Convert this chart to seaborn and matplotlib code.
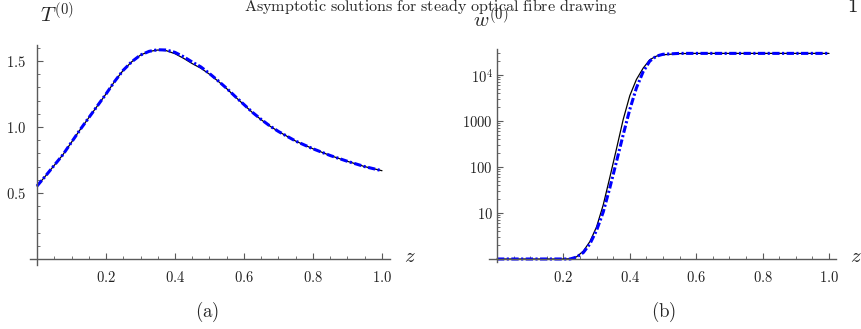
import matplotlib
matplotlib.use("Agg")
import numpy as np
import pandas as pd
import seaborn as sns
import matplotlib.pyplot as plt
from matplotlib.ticker import FixedLocator, FuncFormatter, NullFormatter

# ---------------- data ----------------
T_z = [0.0, 0.025, 0.05, 0.075, 0.1, 0.125, 0.15, 0.175, 0.2, 0.225, 0.25,
       0.275, 0.3, 0.325, 0.35, 0.375, 0.4, 0.425, 0.45, 0.475, 0.5, 0.525, 0.55,
       0.575, 0.6, 0.625, 0.65, 0.675, 0.7, 0.75, 0.8, 0.85, 0.9, 0.95, 1.0]
T_exact = [0.553, 0.63, 0.71, 0.79, 0.885, 0.98, 1.07, 1.16, 1.25, 1.345, 1.43,
           1.495, 1.545, 1.572, 1.583, 1.578, 1.555, 1.52, 1.48, 1.445, 1.40, 1.347, 1.29,
           1.228, 1.168, 1.108, 1.055, 1.007, 0.966, 0.893, 0.835, 0.784, 0.74, 0.70, 0.669]
T_asym = [0.553, 0.63, 0.71, 0.79, 0.885, 0.98, 1.07, 1.16, 1.25, 1.345, 1.43,
          1.495, 1.545, 1.573, 1.585, 1.583, 1.565, 1.532, 1.492, 1.455, 1.405, 1.35, 1.292,
          1.23, 1.17, 1.11, 1.057, 1.008, 0.966, 0.893, 0.835, 0.784, 0.74, 0.70, 0.669]

w_z = [0.0, 0.1, 0.2, 0.22, 0.24, 0.26, 0.28, 0.3, 0.32, 0.34, 0.36, 0.38,
       0.4, 0.42, 0.44, 0.46, 0.48, 0.5, 0.55, 0.6, 0.8, 1.0]
w_exact = [1.0, 1.0, 1.0, 1.01, 1.12, 1.48, 2.4, 5.0, 15.0, 60.0, 250.0, 1070.0,
           3550.0, 8000.0, 14000.0, 21400.0, 25700.0, 27500.0, 29200.0, 29500.0,
           29500.0, 29500.0]
w_asym = [1.0, 1.0, 1.0, 1.0, 1.1, 1.38, 2.14, 4.2, 10.5, 35.5, 132.0, 500.0,
          1780.0, 5250.0, 11700.0, 20000.0, 25700.0, 28200.0, 29500.0, 29500.0,
          29500.0, 29500.0]

x_ticks = [0.2, 0.4, 0.6, 0.8, 1.0]
T_ticks = [0.5, 1.0, 1.5]
w_ticks = [10, 100, 1000, 10000]
w_tick_labels = ["10", "100", "1000", r"10^4"]

# ---------------- style ----------------
sns.set_theme(style="white")
plt.rcParams["font.family"] = ["DejaVu Serif"]
plt.rcParams["mathtext.fontset"] = "cm"

AX_COL = "#5a5a5a"
BLUE = "#0000ff"

fig = plt.figure(figsize=(8.62, 3.29), dpi=100)
W, H = 862.0, 329.0


def px_axes(left, top, right, bottom):
    return fig.add_axes([left / W, 1 - bottom / H, (right - left) / W, (bottom - top) / H])


def style_axes(ax):
    for s in ("top", "right"):
        ax.spines[s].set_visible(False)
    for s in ("left", "bottom"):
        ax.spines[s].set_color(AX_COL)
        ax.spines[s].set_linewidth(1.0)
    ax.tick_params(which="both", direction="in", colors=AX_COL, labelcolor="#222222",
                   labelsize=10.5, bottom=True, left=True, top=False, right=False)
    ax.tick_params(which="major", length=4, width=0.8)
    ax.tick_params(which="minor", length=2.2, width=0.6)
    ax.grid(False)
    ax.set_facecolor("white")
    ax.set_xlabel("")
    ax.set_ylabel("")


mfmt = FuncFormatter(lambda v, p: r"$%.1f$" % v)
dash_pat = (2.4, 0.8, 0.7, 0.8)


def fig_text(x, y, s, **kw):
    # x, y in pixels from the top-left corner
    fig.text(x / W, 1 - y / H, s, ha="center", va="center", **kw)


# ---------------- panel (a) ----------------
axA = px_axes(30, 45, 390, 265)
dfA = pd.DataFrame({"z": T_z, "exact": T_exact, "asym": T_asym})
sns.lineplot(data=dfA, x="z", y="exact", ax=axA, color="black", linewidth=0.9)
sns.lineplot(data=dfA, x="z", y="asym", ax=axA, color=BLUE, linewidth=2.2,
             linestyle=(0, dash_pat))
axA.set_xlim(-0.0203, 1.0232)
axA.set_ylim(-0.045, 1.621)
axA.spines["left"].set_position(("data", 0))
axA.spines["bottom"].set_position(("data", 0))
style_axes(axA)
axA.xaxis.set_major_locator(FixedLocator(x_ticks))
axA.xaxis.set_minor_locator(FixedLocator([i * 0.05 for i in range(1, 21)]))
axA.xaxis.set_major_formatter(mfmt)
axA.yaxis.set_major_locator(FixedLocator(T_ticks))
axA.yaxis.set_minor_locator(FixedLocator([i * 0.1 for i in range(1, 17)]))
axA.yaxis.set_major_formatter(mfmt)
axA.tick_params(axis="x", pad=8)
axA.tick_params(axis="y", pad=8)

# ---------------- panel (b) ----------------
axB = px_axes(489, 49, 836, 262)
dfB = pd.DataFrame({"z": w_z, "exact": w_exact, "asym": w_asym})
sns.lineplot(data=dfB, x="z", y="exact", ax=axB, color="black", linewidth=0.9)
sns.lineplot(data=dfB, x="z", y="asym", ax=axB, color=BLUE, linewidth=2.2,
             linestyle=(0, dash_pat))
axB.set_yscale("log")
axB.set_xlim(-0.024, 1.021)
axB.set_ylim(10 ** (-3 / 46), 10 ** 4.565)
axB.spines["left"].set_position(("data", 0))
axB.spines["bottom"].set_position(("data", 1))
style_axes(axB)
axB.xaxis.set_major_locator(FixedLocator(x_ticks))
axB.xaxis.set_minor_locator(FixedLocator([i * 0.05 for i in range(1, 21)]))
axB.xaxis.set_major_formatter(mfmt)
axB.yaxis.set_major_locator(FixedLocator(w_ticks))
minors = [m * 10 ** d for d in range(0, 5) for m in range(2, 10) if m * 10 ** d < 10 ** 4.56]
axB.yaxis.set_minor_locator(FixedLocator(minors))
axB.yaxis.set_minor_formatter(NullFormatter())
axB.yaxis.set_major_formatter(FuncFormatter(
    lambda v, p: r"$%s$" % w_tick_labels[w_ticks.index(int(round(v)))] if int(round(v)) in w_ticks else ""))
axB.tick_params(axis="x", pad=8)
axB.tick_params(axis="y", pad=3)

# ---------------- text ----------------
fig_text(410, 256, r"$z$", fontsize=15)
fig_text(856, 256, r"$z$", fontsize=15)
fig_text(57, 14, r"$T^{(0)}$", fontsize=15)
fig_text(491, 19, r"$w^{(0)}$", fontsize=15)
fig_text(431, 6, r"$\mathrm{Asymptotic\ solutions\ for\ steady\ optical\ fibre\ drawing}$",
         fontsize=11.6)
fig_text(852, 7, r"$\mathrm{1}$", fontsize=15)
fig_text(207, 312, r"$\mathrm{(a)}$", fontsize=13.5)
fig_text(664, 312, r"$\mathrm{(b)}$", fontsize=13.5)

fig.savefig("out.png", dpi=100, facecolor="white")
